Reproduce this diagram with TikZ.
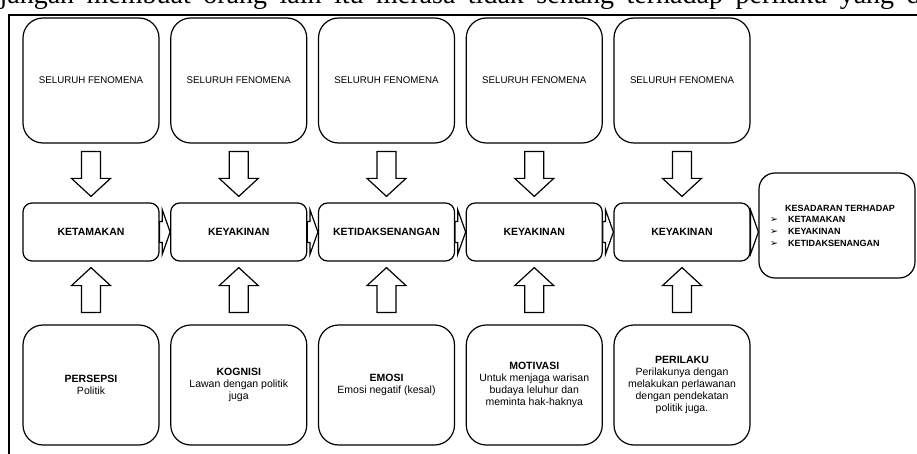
\documentclass[tikz,border=0pt]{standalone}
\usepackage{fontspec}
\setmainfont{Liberation Sans}
\newfontfamily\bodyserif{Liberation Serif}
\newfontfamily\dingfont{DejaVu Sans}
\usetikzlibrary{positioning,calc}
\newcommand{\bul}{\makebox[18pt][l]{\dingfont\fontsize{9.5}{9.5}\selectfont ➢}}

\begin{document}
\begin{tikzpicture}[x=1pt,y=-1pt,line width=1.2pt,node distance=10.55pt,
  flow box/.style={draw,rounded corners=20pt,minimum width=136pt,inner sep=2pt},
  top node/.style={flow box,minimum height=125pt,font=\fontsize{9.7}{12}\selectfont},
  mid node/.style={flow box,rounded corners=9pt,minimum height=58pt,font=\bfseries\fontsize{10.5}{12}\selectfont},
  bottom node/.style={flow box,minimum height=120pt,align=center,font=\fontsize{10.5}{12}\selectfont},
  end node/.style={draw,rounded corners=16pt,minimum width=156pt,minimum height=105pt},
  block arrow v/.style={draw,fill=white,to path={let \p1=(\tikztostart),\p2=(\tikztotarget),\n1={sign(\y2-\y1)} in
    (\x1-9.5pt,\y1) -- (\x1-9.5pt,\y2-\n1*18pt) -- (\x1-19.5pt,\y2-\n1*18pt) -- (\x1,\y2)
    -- (\x1+19.5pt,\y2-\n1*18pt) -- (\x1+9.5pt,\y2-\n1*18pt) -- (\x1+9.5pt,\y1) -- cycle}},
  block arrow h/.style={draw,fill=white,to path={let \p1=(\tikztostart),\p2=(\tikztotarget) in
    (\x1,\y1-10.5pt) -- (\x2-8pt,\y1-10.5pt) -- (\x2-8pt,\y1-22.5pt) -- (\x2,\y1)
    -- (\x2-8pt,\y1+22.5pt) -- (\x2-8pt,\y1+10.5pt) -- (\x1,\y1+10.5pt) -- cycle}}]
  \useasboundingbox (0,0) rectangle (917,454);

  % page around the figure
  \node[anchor=base west,inner sep=0pt,font=\bodyserif\fontsize{28}{30}\selectfont] (prevline) at (-1,3.5)
    {\makebox[921pt][s]{jangan membuat orang lain itu merasa tidak senang terhadap perilaku yang d}};
  \draw[line width=1.5pt] (9,454) -- (9,15) -- (917,15);

  % top row
  \node[top node] (top1) at (91,80.5) {SELURUH FENOMENA};
  \node[top node,right=of top1] (top2) {SELURUH FENOMENA};
  \node[top node,right=of top2] (top3) {SELURUH FENOMENA};
  \node[top node,right=of top3] (top4) {SELURUH FENOMENA};
  \node[top node,right=of top4] (top5) {SELURUH FENOMENA};

  % middle row
  \node[mid node,below=58.8pt of top1] (mid1) {KETAMAKAN};
  \node[mid node,below=58.8pt of top2] (mid2) {KEYAKINAN};
  \node[mid node,below=58.8pt of top3] (mid3) {KETIDAKSENANGAN};
  \node[mid node,below=58.8pt of top4] (mid4) {KEYAKINAN};
  \node[mid node,below=58.8pt of top5] (mid5) {KEYAKINAN};
  \node[end node,right=7.8pt of mid5,yshift=6.5pt] (fin) {};
  \node[align=left,inner sep=0pt,font=\bfseries\fontsize{9}{11.7}\selectfont] (fintext) at ([xshift=-4.5pt]fin.center)
    {\hspace*{15pt}KESADARAN TERHADAP\\\bul KETAMAKAN\\\bul KEYAKINAN\\\bul KETIDAKSENANGAN};

  % bottom row
  \node[bottom node,below=62.8pt of mid1] (bot1) {\textbf{PERSEPSI}\\Politik};
  \node[bottom node,below=62.8pt of mid2] (bot2) {\textbf{KOGNISI}\\Lawan dengan politik\\juga};
  \node[bottom node,below=62.8pt of mid3] (bot3) {\textbf{EMOSI}\\Emosi negatif (kesal)};
  \node[bottom node,below=62.8pt of mid4] (bot4) {\textbf{MOTIVASI}\\Untuk menjaga warisan\\budaya leluhur dan\\meminta hak-haknya};
  \node[bottom node,below=62.8pt of mid5] (bot5) {\textbf{PERILAKU}\\Perilakunya dengan\\melakukan perlawanan\\dengan pendekatan\\politik juga.};

  \foreach \i in {1,...,5} {
    \draw[block arrow v] ([yshift=-8pt]top\i.south) to ([yshift=6pt]mid\i.north);
    \draw[block arrow v] ([yshift=12pt]bot\i.north) to ([yshift=-6pt]mid\i.south);
  }
  \foreach \i/\j in {1/2,2/3,3/4,4/5}
    \draw[block arrow h] (mid\i.east) to (mid\j.west);
  \draw[block arrow h] (mid5.east) to (mid5.east -| fin.west);
\end{tikzpicture}
\end{document}
